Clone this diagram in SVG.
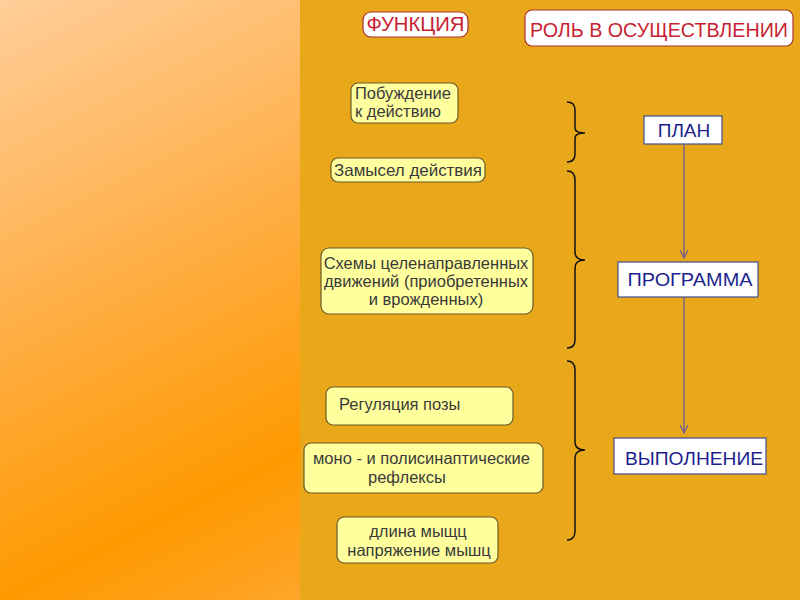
<svg xmlns="http://www.w3.org/2000/svg" width="800" height="600" viewBox="0 0 800 600">
<defs>
<linearGradient id="lg" x1="0" y1="0" x2="300" y2="600" gradientUnits="userSpaceOnUse">
<stop offset="0" stop-color="#FFCE9A"/>
<stop offset="0.45" stop-color="#FFAE45"/>
<stop offset="0.8" stop-color="#FF9900"/>
<stop offset="1" stop-color="#FFA52A"/>
</linearGradient>
<marker id="ah" markerWidth="10" markerHeight="10" refX="9" refY="5" orient="auto" markerUnits="userSpaceOnUse" viewBox="0 0 10 10">
<path d="M1,1 L9,5 L1,9" fill="none" stroke="#6A5A9A" stroke-width="1.2"/>
</marker>
<style>
.y{fill:#FFFF9E;stroke:#6B5A2A;stroke-width:1.2}
.w{fill:#FFFFFF;stroke:#3E4E8A;stroke-width:1.2}
.r{fill:#FFFFFF;stroke:#A83030;stroke-width:1.2}
.t{font-family:"Liberation Sans",Arial,sans-serif;font-size:16.5px;fill:#3A3A3A}
.b{font-family:"Liberation Sans",Arial,sans-serif;font-size:19px;fill:#1C1F8E}
.rt{font-family:"Liberation Sans",Arial,sans-serif;font-size:20px;fill:#C81E32}
.br{fill:none;stroke:#111;stroke-width:1.5}
.c{fill:none;stroke:#6A5A9A;stroke-width:1.3}
</style>
</defs>
<rect x="0" y="0" width="800" height="600" fill="#E8A819"/>
<rect x="0" y="0" width="300" height="600" fill="url(#lg)"/>

<g id="funktsiya">
<rect class="r" x="363" y="12" width="105" height="25" rx="8"/>
<text class="rt" x="415.5" y="31" text-anchor="middle" textLength="98" lengthAdjust="spacingAndGlyphs">ФУНКЦИЯ</text>
</g>
<g id="rol">
<rect class="r" x="525" y="10" width="268" height="36" rx="7"/>
<text class="rt" x="659" y="37" text-anchor="middle" font-size="21" textLength="258" lengthAdjust="spacingAndGlyphs">РОЛЬ В ОСУЩЕСТВЛЕНИИ</text>
</g>

<g id="pobuzhdenie">
<rect class="y" x="351" y="83" width="107" height="40" rx="7"/>
<text class="t" x="355" y="99">Побуждение</text>
<text class="t" x="355" y="117">к действию</text>
</g>
<g id="zamysel">
<rect class="y" x="331" y="158" width="154" height="24" rx="7"/>
<text class="t" x="334" y="176" textLength="148" lengthAdjust="spacingAndGlyphs">Замысел действия</text>
</g>
<g id="skhemy">
<rect class="y" x="321" y="248" width="212" height="66" rx="8"/>
<text class="t" x="426" y="269" text-anchor="middle">Схемы целенаправленных</text>
<text class="t" x="426" y="287" text-anchor="middle">движений (приобретенных</text>
<text class="t" x="426" y="305" text-anchor="middle">и врожденных)</text>
</g>
<g id="regulyatsiya">
<rect class="y" x="326" y="387" width="187" height="38" rx="7"/>
<text class="t" x="339" y="410">Регуляция позы</text>
</g>
<g id="mono">
<rect class="y" x="304" y="443" width="239" height="50" rx="7"/>
<text class="t" x="313" y="464">моно - и полисинаптические</text>
<text class="t" x="368" y="483">рефлексы</text>
</g>
<g id="dlina">
<rect class="y" x="337" y="517" width="161" height="46" rx="7"/>
<text class="t" x="418" y="537" text-anchor="middle">длина мыщц</text>
<text class="t" x="419" y="556" text-anchor="middle">напряжение мышц</text>
</g>

<g id="plan">
<rect class="w" x="644" y="116" width="78" height="28"/>
<text class="b" x="684" y="137" text-anchor="middle">ПЛАН</text>
</g>
<g id="programma">
<rect class="w" x="618" y="262" width="140" height="35"/>
<text class="b" x="690" y="286" text-anchor="middle" textLength="125" lengthAdjust="spacingAndGlyphs">ПРОГРАММА</text>
</g>
<g id="vypolnenie">
<rect class="w" x="614" y="438" width="152" height="36"/>
<text class="b" x="694" y="465" text-anchor="middle" font-size="20" textLength="138" lengthAdjust="spacingAndGlyphs">ВЫПОЛНЕНИЕ</text>
</g>

<g id="connectors">
<line class="c" x1="684" y1="144" x2="684" y2="258" marker-end="url(#ah)"/>
<line class="c" x1="684" y1="297" x2="684" y2="433" marker-end="url(#ah)"/>
<path class="br" d="M567,102 Q575,102 575,110 L575,128 Q575,133 585,133 Q575,133 575,138 L575,154 Q575,162 567,162"/>
<path class="br" d="M567,171 Q575,171 575,180 L575,252 Q575,260 585,260 Q575,260 575,268 L575,340 Q575,348 567,348"/>
<path class="br" d="M567,361 Q575,361 575,370 L575,442 Q575,450 585,450 Q575,450 575,458 L575,531 Q575,540 567,540"/>
</g>
</svg>
